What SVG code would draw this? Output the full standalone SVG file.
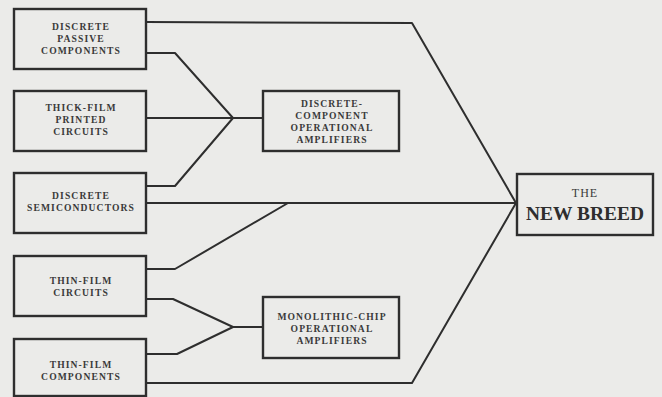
<svg xmlns="http://www.w3.org/2000/svg" width="662" height="397" viewBox="0 0 662 397">
<style>
.bg{fill:#ebebe9}
.box{fill:none;stroke:#2e2e2e;stroke-width:2.4}
.ln{fill:none;stroke:#2e2e2e;stroke-width:2;stroke-linejoin:round}
.t{font-family:"Liberation Serif","DejaVu Serif",serif;font-weight:bold;font-size:9.6px;letter-spacing:1.1px;fill:#3a3a3a;text-anchor:middle}
.the{font-family:"Liberation Serif","DejaVu Serif",serif;font-size:12px;letter-spacing:1px;fill:#3a3a3a;text-anchor:middle}
.nb{font-family:"Liberation Serif","DejaVu Serif",serif;font-weight:bold;font-size:19px;fill:#2e2e2e;text-anchor:middle}
</style>
<rect class="bg" x="0" y="0" width="662" height="397"/>
<g id="connectors">
<polyline class="ln" points="146,22 412,23 516,203"/>
<polyline class="ln" points="146,53 175,53 233,118"/>
<polyline class="ln" points="146,118 263,118"/>
<polyline class="ln" points="146,186 175,186 233,118"/>
<polyline class="ln" points="146,203 516,203"/>
<polyline class="ln" points="146,269 175,269 288,203"/>
<polyline class="ln" points="146,299 173,299 233,327"/>
<polyline class="ln" points="146,354 177,354 233,327"/>
<polyline class="ln" points="233,327 263,327"/>
<polyline class="ln" points="146,383 412,383 516,203"/>
</g>
<g id="discrete-passive">
<rect class="box" x="14" y="9" width="132" height="60"/>
<text class="t" x="81" y="30">DISCRETE</text>
<text class="t" x="81" y="42">PASSIVE</text>
<text class="t" x="81" y="54">COMPONENTS</text>
</g>
<g id="thick-film">
<rect class="box" x="14" y="91" width="132" height="60"/>
<text class="t" x="81" y="111">THICK-FILM</text>
<text class="t" x="81" y="123">PRINTED</text>
<text class="t" x="81" y="135">CIRCUITS</text>
</g>
<g id="discrete-semiconductors">
<rect class="box" x="14" y="173" width="132" height="60"/>
<text class="t" x="81" y="199">DISCRETE</text>
<text class="t" x="81" y="211">SEMICONDUCTORS</text>
</g>
<g id="thin-film-circuits">
<rect class="box" x="14" y="256" width="132" height="60"/>
<text class="t" x="81" y="284">THIN-FILM</text>
<text class="t" x="81" y="296">CIRCUITS</text>
</g>
<g id="thin-film-components">
<rect class="box" x="14" y="339" width="132" height="57"/>
<text class="t" x="81" y="368">THIN-FILM</text>
<text class="t" x="81" y="380">COMPONENTS</text>
</g>
<g id="discrete-component-opamps">
<rect class="box" x="263" y="91" width="136" height="60"/>
<text class="t" x="332" y="107">DISCRETE-</text>
<text class="t" x="332" y="119">COMPONENT</text>
<text class="t" x="332" y="131">OPERATIONAL</text>
<text class="t" x="332" y="143">AMPLIFIERS</text>
</g>
<g id="monolithic-opamps">
<rect class="box" x="263" y="297" width="136" height="61"/>
<text class="t" x="332" y="320">MONOLITHIC-CHIP</text>
<text class="t" x="332" y="332">OPERATIONAL</text>
<text class="t" x="332" y="344">AMPLIFIERS</text>
</g>
<g id="new-breed">
<rect class="box" x="517" y="174" width="136" height="61"/>
<text class="the" x="585" y="197">THE</text>
<text class="nb" x="585" y="220" textLength="118" lengthAdjust="spacingAndGlyphs">NEW BREED</text>
</g>
</svg>
